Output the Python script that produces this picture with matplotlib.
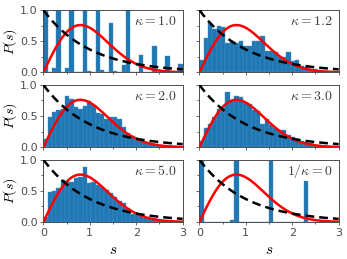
import numpy as np
import matplotlib.pyplot as plt
from matplotlib.ticker import MultipleLocator

plt.rcParams["mathtext.fontset"] = "cm"

# histogram bins over [0, 3]
n_bins = 32
bin_edges = np.linspace(0, 3, n_bins + 1)

labels = [r"$\kappa=1.0$", r"$\kappa=1.2$", r"$\kappa=2.0$",
          r"$\kappa=3.0$", r"$\kappa=5.0$", r"$1/\kappa=0$"]

h_k10 = [1.5, 0, 0.07, 1.5, 0, 0.07, 1.5, 0, 0, 1.5, 0.03, 0, 1.5, 0.04, 0, 0.8,
         0.03, 0, 0.12, 1.5, 0, 0, 0.28, 0, 0, 0.42, 0, 0, 0.26, 0, 0, 0.13]
h_k12 = [0.2, 0.55, 0.8, 0.69, 0.74, 0.73, 0.48, 0.5, 0.47, 0.5, 0.43, 0.43, 0.5,
         0.5, 0.58, 0.34, 0.35, 0.32, 0.25, 0.24, 0.32, 0.18, 0.2, 0.1, 0.08, 0.06,
         0.05, 0.04, 0.03, 0.03, 0.02, 0.02]
h_k20 = [0.13, 0.48, 0.56, 0.6, 0.62, 0.82, 0.78, 0.65, 0.62, 0.66, 0.74, 0.68, 0.55,
         0.53, 0.45, 0.49, 0.48, 0.45, 0.33, 0.22, 0.18, 0.12, 0.1, 0.08, 0.05, 0.04,
         0.03, 0.02, 0.02, 0.01, 0.01, 0.01]
h_k30 = [0.1, 0.3, 0.38, 0.48, 0.62, 0.65, 0.88, 0.75, 0.82, 0.8, 0.72, 0.7, 0.6,
         0.58, 0.38, 0.45, 0.35, 0.3, 0.28, 0.27, 0.2, 0.17, 0.13, 0.1, 0.08, 0.06,
         0.04, 0.03, 0.02, 0.02, 0.01, 0.01]
h_k50 = [0.08, 0.48, 0.5, 0.55, 0.68, 0.66, 0.64, 0.7, 0.72, 0.88, 0.62, 0.64, 0.6,
         0.56, 0.52, 0.46, 0.4, 0.34, 0.3, 0.22, 0.12, 0.12, 0.1, 0.07, 0.05, 0.04,
         0.03, 0.02, 0.02, 0.01, 0.01, 0.0]
h_kinf = [1.5, 0, 0, 0, 0, 0, 0, 0.03, 1.5, 0, 0, 0, 0, 0, 0, 0,
          1.5, 0, 0, 0, 0, 0, 0, 0, 1.5, 0, 0, 0, 0, 0, 0, 0]

hists = [h_k10, h_k12, h_k20, h_k30, h_k50, h_kinf]

s = np.linspace(0, 3, 300)
p_wigner = np.pi / 2 * s * np.exp(-np.pi * s**2 / 4)
p_poisson = np.exp(-s)

fig, axes = plt.subplots(3, 2, figsize=(3.47, 2.59), dpi=100, sharex=True, sharey=True)
fig.subplots_adjust(left=0.125, right=0.976, top=0.961, bottom=0.143,
                    wspace=0.12, hspace=0.2)

for ax, h, lab in zip(axes.flat, hists, labels):
    ax.bar(bin_edges[:-1], h, width=np.diff(bin_edges), align="edge",
           color="#1f77b4", edgecolor="#4a93c8", linewidth=0.3, zorder=1)
    ax.plot(s, p_wigner, color="red", lw=1.8, zorder=3)
    ax.plot(s, p_poisson, color="black", lw=1.8, ls=(0, (3.5, 2)), zorder=3)
    ax.text(0.96, 0.82, lab, transform=ax.transAxes, ha="right", va="center",
            fontsize=10, color="0.25", zorder=2,
            bbox=dict(facecolor="white", edgecolor="none", pad=1))
    ax.set_xlim(0, 3)
    ax.set_ylim(0, 1)
    ax.xaxis.set_major_locator(MultipleLocator(1))
    ax.xaxis.set_minor_locator(MultipleLocator(0.5))
    ax.yaxis.set_major_locator(MultipleLocator(0.5))
    ax.yaxis.set_minor_locator(MultipleLocator(0.25))
    ax.tick_params(which="both", direction="out", colors="0.3", labelsize=8,
                   length=2.5, width=0.6, pad=1.5)
    ax.tick_params(which="minor", length=1.5)
    for sp in ax.spines.values():
        sp.set_color("0.3")
        sp.set_linewidth(0.7)

for ax in axes[:, 0]:
    ax.set_ylabel(r"$P(s)$", fontsize=10, labelpad=1)
for ax in axes[-1, :]:
    ax.set_xlabel(r"$s$", fontsize=11, labelpad=3)

plt.savefig("out.png", dpi=100)
